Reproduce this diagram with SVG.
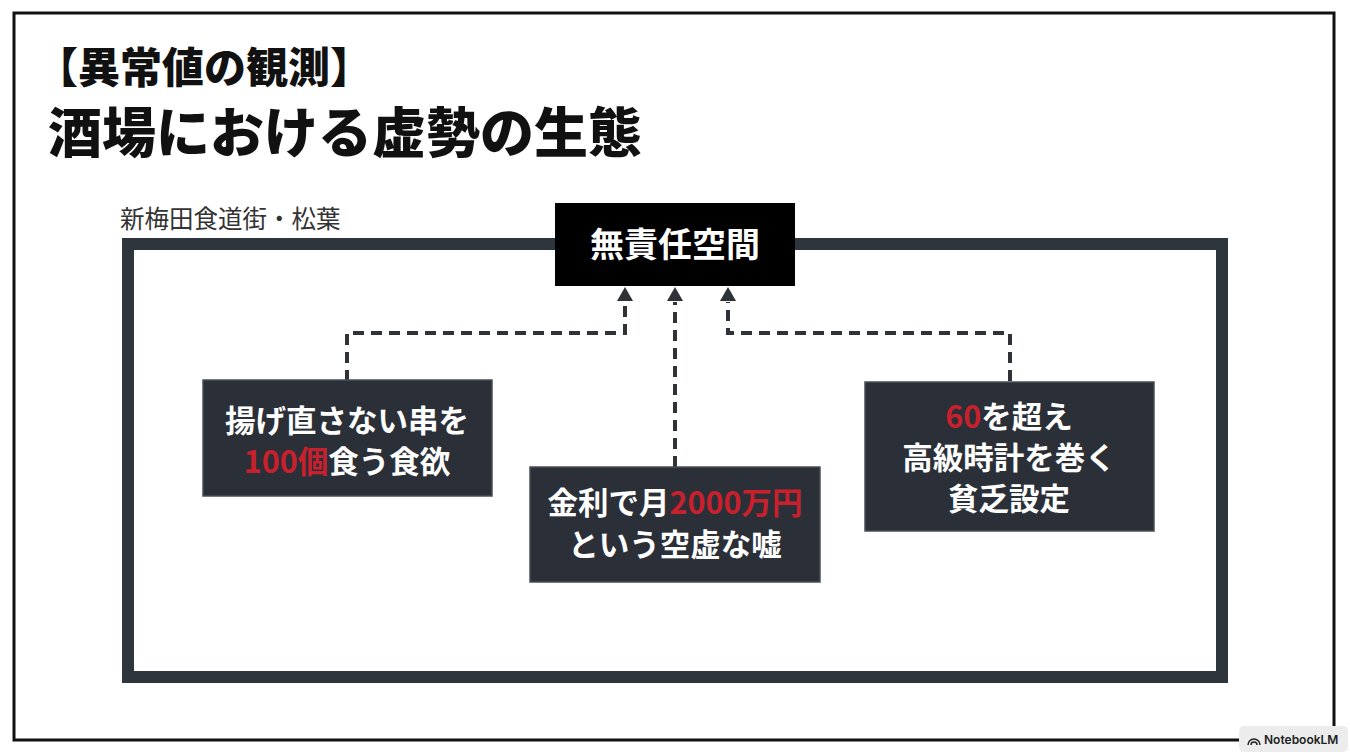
<svg xmlns="http://www.w3.org/2000/svg" width="1350" height="753" viewBox="0 0 1350 753">
<defs>
<style>
.jp{font-family:"Noto Sans CJK JP","Noto Sans",sans-serif;}
.ttl{font-weight:900;fill:#111;}
.bt{font-weight:700;fill:#fff;font-size:30.5px;text-anchor:middle;}
.red{fill:#c8202c;}
.box{fill:#2b3038;stroke:#4a4f56;stroke-width:1.5;}
.dash{fill:none;stroke:#2f3338;stroke-width:4;stroke-dasharray:11 7;}
.ah{fill:#2f3338;}
</style>
</defs>
<rect width="1350" height="753" fill="#fff"/>
<rect x="14" y="13" width="1320" height="727" fill="none" stroke="#111" stroke-width="3"/>

<g id="title">
<text class="jp ttl" x="36" y="83" font-size="42">【異常値の観測】</text>
<text class="jp ttl" x="48" y="153" font-size="54">酒場における虚勢の生態</text>
</g>

<g id="area">
<text class="jp" x="120" y="228" font-size="24.5" fill="#333">新梅田食道街・松葉</text>
<rect x="128" y="244" width="1094" height="433" fill="none" stroke="#2e353d" stroke-width="12"/>
</g>

<g id="connectors">
<path class="dash" d="M347,381 V333 H625 V302"/>
<path class="dash" d="M675,467 V302"/>
<path class="dash" d="M1010,381 V333 H728 V302"/>
<path class="ah" d="M617,301 L625,287 L633,301 Z"/>
<path class="ah" d="M667,301 L675,287 L683,301 Z"/>
<path class="ah" d="M720,301 L728,287 L736,301 Z"/>
</g>

<g id="node-space">
<rect x="555" y="203" width="240" height="83" fill="#000"/>
<text class="jp bt" x="675" y="257" font-size="34" style="font-size:34px">無責任空間</text>
</g>

<g id="node-kushi">
<rect class="box" x="203" y="380" width="289" height="116"/>
<text class="jp bt" x="347" y="432">揚げ直さない串を</text>
<text class="jp bt" x="347" y="473"><tspan class="red">100個</tspan>食う食欲</text>
</g>

<g id="node-kinri">
<rect class="box" x="530" y="467" width="290" height="115"/>
<text class="jp bt" x="675" y="514">金利で月<tspan class="red">2000万円</tspan></text>
<text class="jp bt" x="675" y="556">という空虚な嘘</text>
</g>

<g id="node-tokei">
<rect class="box" x="865" y="382" width="289" height="149"/>
<text class="jp bt" x="1009" y="428"><tspan class="red">60</tspan>を超え</text>
<text class="jp bt" x="1009" y="469">高級時計を巻く</text>
<text class="jp bt" x="1009" y="510">貧乏設定</text>
</g>

<g id="badge">
<rect x="1239" y="726" width="109" height="26" rx="5" fill="#ececec"/>
<path d="M1248,745 a6,6 0 0 1 12,0 M1251,745 a3,3 0 0 1 6,0" fill="none" stroke="#222" stroke-width="1.5"/>
<text x="1264" y="744" font-family="Inter, 'Liberation Sans', sans-serif" font-size="12" font-weight="600" fill="#222">NotebookLM</text>
</g>
</svg>
